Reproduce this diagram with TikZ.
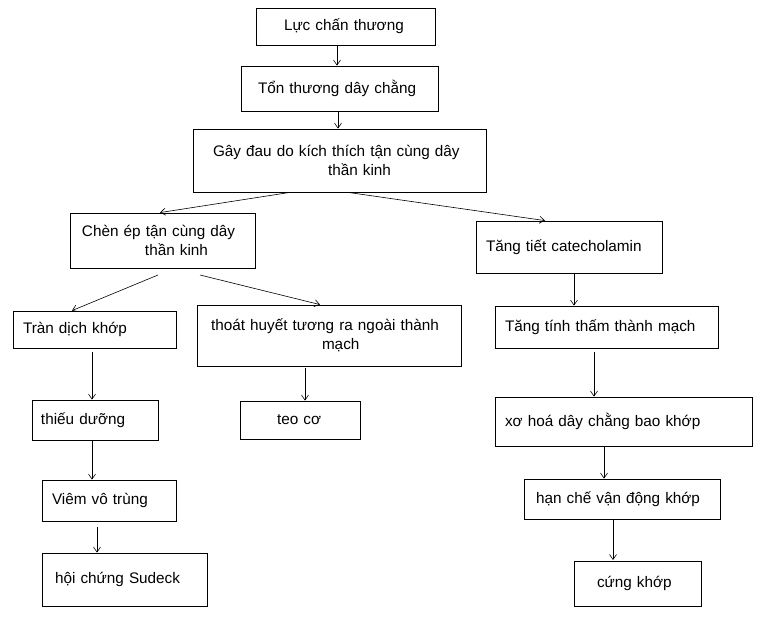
\documentclass[tikz,border=0pt]{standalone}
\usepackage{fontspec}
\setmainfont{Liberation Sans}
\usetikzlibrary{arrows.meta}
\begin{document}
\begin{tikzpicture}[x=1pt,y=-1pt,
 bx/.style={draw,line width=0.8pt,font=\fontsize{15.3}{18.5}\selectfont,inner xsep=0pt,inner ysep=0pt,align=left},
 arr/.style={line width=0.6pt,-{Straight Barb[length=5pt,width=7pt]}}]
\useasboundingbox (0,0) rectangle (764,623);
\newcommand\bb[7]{\node[bx,minimum width={#3-#2},minimum height={#5-#4},text width={#3-#2}] (#1) at ({(#2+#3)/2},{(#4+#5)/2}) {\hspace*{#6pt}#7};}
\bb{a}{256}{435}{8}{45}{28}{Lực chấn thương}
\bb{b}{241}{438}{66}{111}{17}{Tổn thương dây chằng}
\bb{c}{193}{486}{129}{192}{20}{Gây đau do kích thích tận cùng dây\\\hspace*{135pt}thần kinh}
\bb{d}{70}{255}{213}{268}{12}{Chèn ép tận cùng dây\\\hspace*{75pt}thần kinh}
\bb{e}{476}{662}{221}{273}{10}{Tăng tiết catecholamin}
\bb{f}{13}{176}{311}{348}{10}{Tràn dịch khớp}
\bb{g}{197}{461}{305}{366}{14}{thoát huyết tương ra ngoài thành\\\hspace*{125pt}mạch}
\bb{h}{495}{718}{306}{348}{10}{Tăng tính thấm thành mạch}
\bb{i}{32}{158}{400}{440}{9}{thiếu dưỡng}
\bb{j}{240}{360}{401}{439}{37}{teo cơ}
\bb{k}{495}{752}{397}{446}{10}{xơ hoá dây chằng bao khớp}
\bb{l}{42}{176}{480}{521}{10}{Viêm vô trùng}
\bb{m}{524}{720}{479}{519}{12}{hạn chế vận động khớp}
\bb{n}{42}{207}{553}{606}{13}{hội chứng Sudeck}
\bb{o}{574}{701}{561}{606}{23}{cứng khớp}
\draw[arr] (a.south -| 337,0) -- (b.north -| 337,0);
\draw[arr] (b.south -| 338,0) -- (c.north -| 338,0);
\draw[arr] (c.south -| 290,0) -- (d.north -| 160,0);
\draw[arr] (c.south -| 348,0) -- (e.north -| 545,0);
\draw[arr] (158,275) coordinate (d1) -- (f.north -| 72,0);
\draw[arr] (200,275) coordinate (d2) -- (g.north -| 320,0);
\draw[arr] (e.south -| 574,0) -- (h.north -| 574,0);
\draw[arr] (92,352) coordinate (f1) -- (i.north -| 92,0);
\draw[arr] (305,368) coordinate (g1) -- (j.north -| 305,0);
\draw[arr] (594,352) coordinate (h1) -- (k.north -| 594,0);
\draw[arr] (i.south -| 92,0) -- (l.north -| 92,0);
\draw[arr] (k.south -| 604,0) -- (m.north -| 604,0);
\draw[arr] (97,527) coordinate (l1) -- (n.north -| 97,0);
\draw[arr] (m.south -| 613,0) -- (613,560);
\end{tikzpicture}
\end{document}
